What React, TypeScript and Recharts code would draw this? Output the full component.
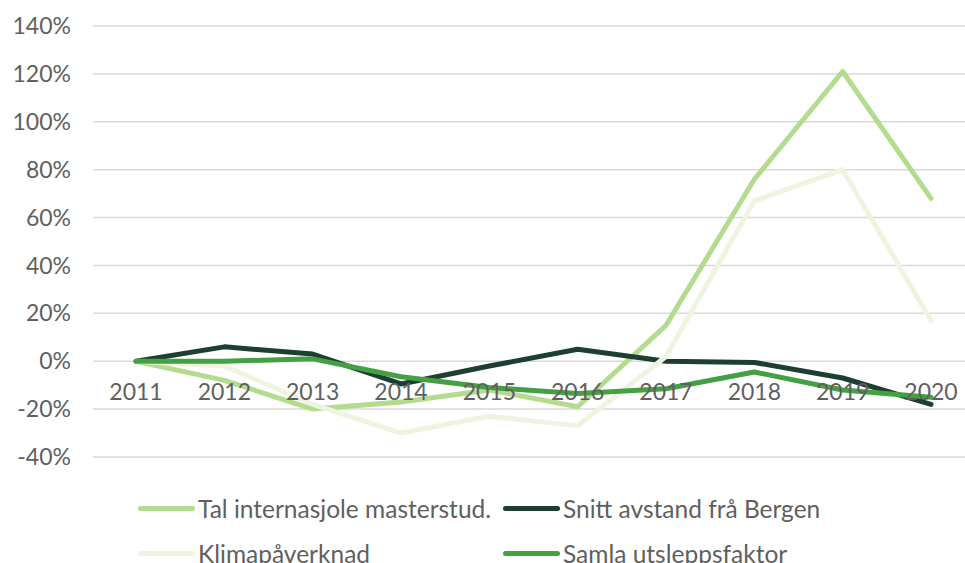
import { CartesianGrid, Line, LineChart, XAxis, YAxis } from 'recharts';

const YEARS = ['2011', '2012', '2013', '2014', '2015', '2016', '2017', '2018', '2019', '2020'];

const TAL_STUD = [0, -8, -20, -17, -12, -19, 15, 76, 121, 68];
const SNITT_AVSTAND = [0, 6, 3, -9.5, -2, 5, 0, -0.5, -7, -18];
const KLIMA = [0, -2, -18, -30, -23, -27, 2, 67, 80, 17];
const SAMLA = [0, 0, 1, -6.5, -11, -13.5, -11.5, -4.5, -12, -15];

const Y_TICKS = [-40, -20, 0, 20, 40, 60, 80, 100, 120, 140];

const SERIES = [
  { key: 'tal', name: 'Tal internasjole masterstud.', color: '#b3dc8e', values: TAL_STUD },
  { key: 'snitt', name: 'Snitt avstand frå Bergen', color: '#1c3f31', values: SNITT_AVSTAND },
  { key: 'klima', name: 'Klimapåverknad', color: '#eef4e0', values: KLIMA },
  { key: 'samla', name: 'Samla utsleppsfaktor', color: '#44a143', values: SAMLA },
];

const data = YEARS.map((year, i) => {
  const row: Record<string, string | number> = { year };
  SERIES.forEach((s) => {
    row[s.key] = s.values[i];
  });
  return row;
});

const FONT = 'Lato, "Open Sans", sans-serif';
const TEXT = '#5f5f5f';

function YearTick(props: any) {
  const { x, y, payload } = props;
  // labels sit just under the 0% line, not at the bottom of the plot
  return (
    <text x={x} y={y - 65} textAnchor="middle" fill={TEXT} fontSize={23} fontFamily={FONT}>
      {payload.value}
    </text>
  );
}

function LegendBox() {
  const pos = [
    { left: 138, top: 508 },
    { left: 503, top: 508 },
    { left: 138, top: 553 },
    { left: 503, top: 553 },
  ];
  return (
    <>
      {SERIES.map((s, i) => (
        <div
          key={s.key}
          style={{
            position: 'absolute',
            left: pos[i].left,
            top: pos[i].top - 16,
            height: 32,
            display: 'flex',
            alignItems: 'center',
            whiteSpace: 'nowrap',
            fontFamily: FONT,
            fontSize: 24.5,
            color: TEXT,
          }}
        >
          <span
            style={{
              display: 'inline-block',
              width: 57,
              height: 5,
              borderRadius: 3,
              background: s.color,
              marginRight: 3,
            }}
          />
          {s.name}
        </div>
      ))}
    </>
  );
}

export default function App() {
  return (
    <div
      style={{
        position: 'fixed',
        left: 0,
        top: 0,
        width: 965,
        height: 563,
        overflow: 'hidden',
        background: '#fff',
      }}
    >
      <LineChart width={980} height={563} data={data} margin={{ top: 26, right: 6, left: 0, bottom: 76 }}>
        <CartesianGrid vertical={false} stroke="#d9d9d9" strokeWidth={1.5} />
        <XAxis
          dataKey="year"
          axisLine={false}
          tickLine={false}
          padding={{ left: 43, right: 43 }}
          height={30}
          tick={<YearTick />}
          interval={0}
        />
        <YAxis
          domain={[-40, 140]}
          ticks={Y_TICKS}
          axisLine={false}
          tickLine={false}
          width={93}
          tickMargin={16}
          tickFormatter={(v) => `${v}%`}
          tick={{ fill: TEXT, fontSize: 23, fontFamily: FONT }}
        />
        {SERIES.map((s) => (
          <Line
            key={s.key}
            dataKey={s.key}
            name={s.name}
            stroke={s.color}
            strokeWidth={5}
            strokeLinejoin="round"
            strokeLinecap="round"
            dot={false}
            activeDot={false}
            isAnimationActive={false}
          />
        ))}
      </LineChart>
      <LegendBox />
    </div>
  );
}
